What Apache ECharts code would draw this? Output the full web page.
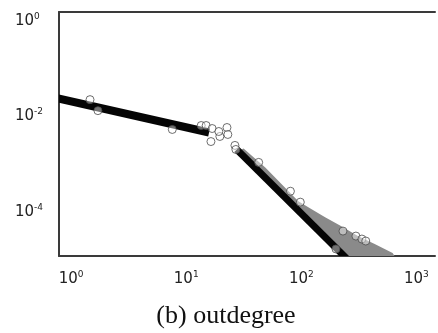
<!DOCTYPE html>
<html>
<head>
<meta charset="utf-8">
<script src="https://cdn.jsdelivr.net/npm/echarts@6/dist/echarts.min.js"></script>
<style>
  html, body { margin: 0; padding: 0; background: #fff; }
  #main { width: 438px; height: 333px; }
</style>
</head>
<body>
<div id="main"></div>
<script>
// axis ranges (log scale)
var xMin = 0.785, xMax = 1450;
var yMin = 1.21e-5, yMax = 1.54;

// thick black fitted lines (two regimes), ends run past the frame and get clipped
var fit1X = [0.7, 15.8];
var fit1Y = [0.0252, 0.00464];
var fit2X = [27.5, 281];
var fit2Y = [0.00205, 7.9e-6];

// grey cloud of points around the tail
var greyX = [26.5, 31.5, 48.9, 94.2, 115, 161, 221, 310, 434, 621, 646, 217, 94.2, 45];
var greyY = [0.00175, 0.00215, 0.00085, 0.000169, 0.000127, 7.87e-5, 5.11e-5, 3.16e-5, 2.16e-5, 1.40e-5, 1.21e-5, 1.21e-5, 1.0e-4, 0.00068];

// hollow circle markers
var ptX = [1.46, 1.71, 7.57, 13.5, 14.9, 16.8, 16.4, 19.6, 19.2, 22.6, 23.0, 26.5, 27.0, 42.6, 80.4, 98, 230, 298, 336, 363, 200];
var ptY = [0.0226, 0.0133, 0.00537, 0.0065, 0.0065, 0.00562, 0.0030, 0.00383, 0.00487, 0.0059, 0.00422, 0.00249, 0.00205, 0.0011, 0.000274, 0.000162, 4.02e-5, 3.16e-5, 2.74e-5, 2.49e-5, 1.70e-5];

function zip(a, b) {
    return a.map(function (v, i) { return [v, b[i]]; });
}

var chartDom = document.getElementById('main');
var myChart = echarts.init(chartDom, null, { renderer: 'canvas' });

var labelRich = {
    b: { fontFamily: 'DejaVu Sans', fontSize: 15, color: '#222', lineHeight: 18 },
    e: { fontFamily: 'DejaVu Sans', fontSize: 9, color: '#222', lineHeight: 9, verticalAlign: 'top' }
};

function powLabel(step) {
    return function (value) {
        var ex = Math.log10(value);
        var r = Math.round(ex);
        if (Math.abs(ex - r) > 1e-6 || r % step !== 0) return '';
        return '{b|10}{e|' + r + '}';
    };
}

// fitted line drawn as a custom polyline so the grid clip is exact
function fitSeries(xs, ys, w) {
    return {
        type: 'custom',
        clip: true,
        z: 2,
        data: [[xs[0], ys[0]]],
        renderItem: function (params, api) {
            var pts = xs.map(function (x, i) { return api.coord([x, ys[i]]); });
            return {
                type: 'polyline',
                shape: { points: pts },
                style: { stroke: '#050505', lineWidth: w, fill: null }
            };
        }
    };
}

var axisLine = { show: true, lineStyle: { color: '#3a3a3a', width: 2 } };

var option = {
    animation: false,
    backgroundColor: '#fff',
    grid: { left: 59, top: 12, right: 0, bottom: 77 },
    xAxis: [
        {
            type: 'log',
            logBase: 10,
            min: xMin,
            max: xMax,
            axisLine: axisLine,
            axisTick: { show: false },
            splitLine: { show: false },
            axisLabel: { formatter: powLabel(1), rich: labelRich, margin: 14 }
        },
        {
            type: 'log',
            position: 'top',
            min: xMin,
            max: xMax,
            axisLine: axisLine,
            axisTick: { show: false },
            splitLine: { show: false },
            axisLabel: { show: false }
        }
    ],
    yAxis: {
        type: 'log',
        logBase: 10,
        min: yMin,
        max: yMax,
        axisLine: axisLine,
        axisTick: { show: false },
        splitLine: { show: false },
        axisLabel: { formatter: powLabel(2), rich: labelRich, margin: 44, align: 'left' }
    },
    graphic: [
        {
            type: 'text',
            x: 226,
            y: 316,
            style: {
                text: '(b) outdegree',
                font: '26px "Liberation Serif"',
                fill: '#111',
                textAlign: 'center',
                textVerticalAlign: 'middle',
                align: 'center',
                verticalAlign: 'middle'
            }
        }
    ],
    series: [
        {
            type: 'custom',
            clip: true,
            z: 1,
            data: [[greyX[0], greyY[0]]],
            renderItem: function (params, api) {
                var pts = greyX.map(function (x, i) { return api.coord([x, greyY[i]]); });
                return {
                    type: 'polygon',
                    shape: { points: pts },
                    style: { fill: '#8a8a8a' }
                };
            }
        },
        fitSeries(fit1X, fit1Y, 8),
        fitSeries(fit2X, fit2Y, 7),
        {
            type: 'scatter',
            z: 3,
            data: zip(ptX, ptY),
            symbol: 'circle',
            symbolSize: 8,
            itemStyle: { color: 'rgba(255,255,255,0.55)', borderColor: '#4a4a4a', borderWidth: 1 }
        }
    ]
};

option && myChart.setOption(option);
</script>
</body>
</html>
